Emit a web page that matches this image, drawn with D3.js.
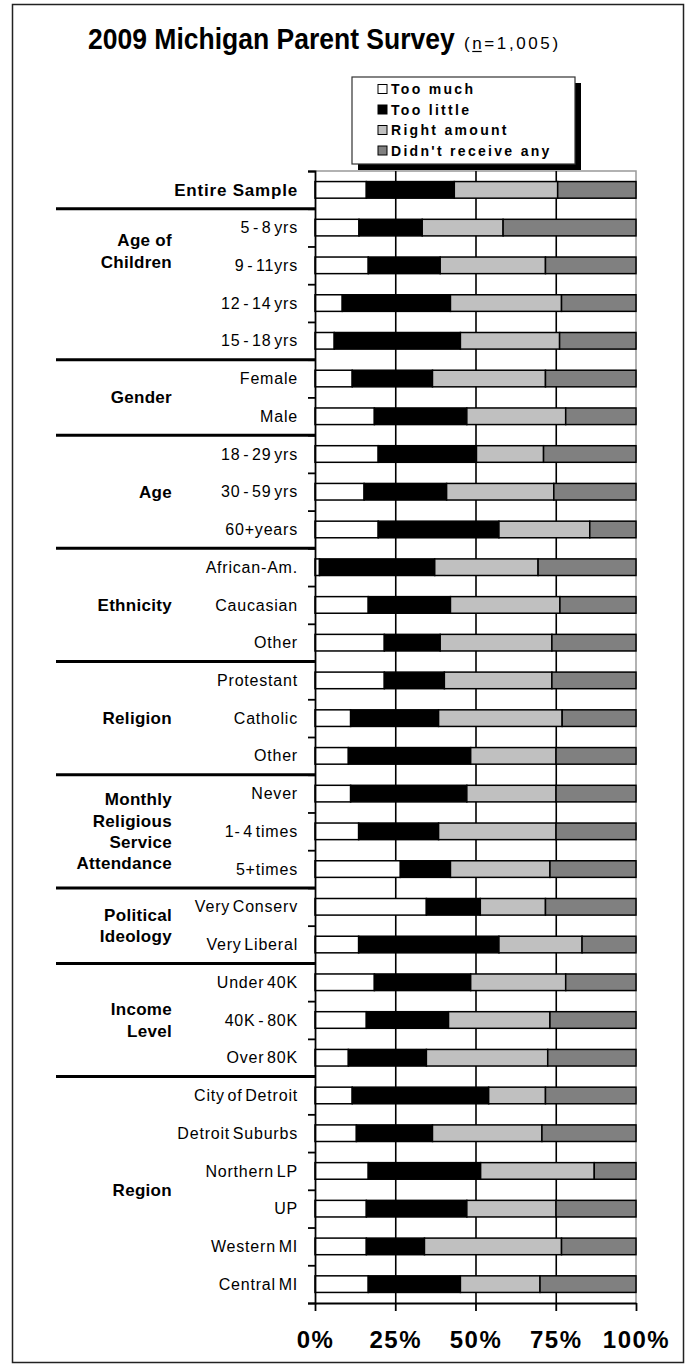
<!DOCTYPE html>
<html>
<head>
<meta charset="utf-8">
<script src="https://cdn.jsdelivr.net/npm/d3@7"></script>
<style>
  html, body { margin: 0; padding: 0; background: #fff; }
  svg text { font-family: "Liberation Sans", Arial, sans-serif; fill: #000; }
</style>
</head>
<body>
<svg id="chart" width="689" height="1367"></svg>
<script>
// Row labels, top to bottom
const rowLabels = [
  "Entire Sample",
  "5 - 8 yrs", "9 - 11yrs", "12 - 14 yrs", "15 - 18 yrs",
  "Female", "Male",
  "18 - 29 yrs", "30 - 59 yrs", "60+years",
  "African-Am.", "Caucasian", "Other",
  "Protestant", "Catholic", "Other",
  "Never", "1- 4 times", "5+times",
  "Very Conserv", "Very Liberal",
  "Under 40K", "40K - 80K", "Over 80K",
  "City of Detroit", "Detroit Suburbs", "Northern LP", "UP", "Western MI", "Central MI"
];

// Group headings (lines split by "|") and how many rows each spans
const groupNames = ["", "Age of|Children", "Gender", "Age", "Ethnicity", "Religion",
  "Monthly|Religious|Service|Attendance", "Political|Ideology", "Income|Level", "Region"];
const groupSizes = [1, 4, 2, 3, 3, 3, 3, 2, 3, 6];

// Response shares (%) per row
const tooMuch = [16.0, 13.7, 16.6, 8.5, 6.0, 11.6, 18.5, 19.7, 15.3, 19.7, 1.4, 16.6, 21.6,
  21.6, 11.1, 10.4, 11.1, 13.6, 26.6, 34.7, 13.6, 18.5, 16.0, 10.4, 11.6, 12.9, 16.6, 16.0, 16.0, 16.6];
const tooLittle = [27.4, 19.7, 22.4, 33.7, 39.3, 25.0, 28.8, 30.6, 25.7, 37.6, 35.9, 25.6, 17.4,
  18.7, 27.4, 38.1, 36.2, 24.9, 15.6, 16.8, 43.7, 30.0, 25.6, 24.3, 42.5, 23.7, 35.0, 31.3, 18.1, 28.7];
const rightAmount = [32.2, 25.2, 32.8, 34.6, 30.9, 35.2, 30.8, 20.9, 33.4, 28.3, 32.2, 34.1, 34.8,
  33.5, 38.5, 26.6, 27.8, 36.6, 31.0, 20.3, 25.9, 29.6, 31.6, 37.8, 17.7, 34.1, 35.4, 27.8, 42.7, 24.8];
const didntReceive = [24.4, 41.4, 28.2, 23.2, 23.8, 28.2, 21.9, 28.8, 25.6, 14.4, 30.5, 23.7, 26.2,
  26.2, 23.0, 24.9, 24.9, 24.9, 26.8, 28.2, 16.8, 21.9, 26.8, 27.5, 28.2, 29.3, 13.0, 24.9, 23.2, 29.9];

const seriesNames = ["Too much", "Too little", "Right amount", "Didn't receive any"];
const seriesColors = ["#ffffff", "#000000", "#c0c0c0", "#808080"];
const xTicks = [0, 25, 50, 75, 100];

const svg = d3.select("#chart");

// Outer frame
svg.append("rect")
  .attr("x", 12.5).attr("y", 4.5).attr("width", 671).attr("height", 1358)
  .attr("fill", "none").attr("stroke", "#222").attr("stroke-width", 1.5);

// Title (slightly stretched vertically)
svg.append("text")
  .attr("transform", "translate(88,49) scale(1,1.08)")
  .attr("font-size", 26.5).attr("font-weight", "bold")
  .text("2009 Michigan Parent Survey");
const sub = svg.append("text")
  .attr("x", 464).attr("y", 49)
  .attr("font-size", 17).attr("letter-spacing", 2.6)
  .text("(n=1,005)");
// underline the "n"
{
  const node = sub.node();
  const start = node.getStartPositionOfChar(1);
  const w = node.getSubStringLength(1, 1) - 2.6;
  svg.append("line")
    .attr("x1", start.x).attr("x2", start.x + w)
    .attr("y1", 51.5).attr("y2", 51.5)
    .attr("stroke", "#000").attr("stroke-width", 1.2);
}

// Plot geometry
const plotLeft = 315, plotRight = 636, plotTop = 171, plotBottom = 1303;

const table = rowLabels.map((label, i) => ({
  id: i, label,
  [seriesNames[0]]: tooMuch[i],
  [seriesNames[1]]: tooLittle[i],
  [seriesNames[2]]: rightAmount[i],
  [seriesNames[3]]: didntReceive[i]
}));

const x = d3.scaleLinear().domain([0, 100]).range([plotLeft, plotRight]);
const y = d3.scaleBand().domain(table.map(d => d.id)).range([plotTop, plotBottom])
  .paddingInner(0.56).paddingOuter(0.28);
const rowScale = d3.scaleLinear().domain([0, rowLabels.length]).range([plotTop, plotBottom]);
const color = d3.scaleOrdinal().domain(seriesNames).range(seriesColors);

// Plot area border (top and right)
svg.append("path")
  .attr("d", `M${plotLeft},${plotTop}H${plotRight}V${plotBottom}`)
  .attr("fill", "none").attr("stroke", "#999").attr("stroke-width", 1.5);

// Vertical gridlines
svg.append("g")
  .attr("transform", `translate(0,${plotBottom})`)
  .call(d3.axisBottom(x).tickValues([25, 50, 75]).tickSize(-(plotBottom - plotTop)).tickFormat(""))
  .call(g => g.select(".domain").remove())
  .call(g => g.selectAll(".tick line").attr("stroke", "#000").attr("stroke-width", 1.6));

// Stacked bars
const stacked = d3.stack().keys(seriesNames)(table);
svg.append("g").selectAll("g")
  .data(stacked)
  .join("g")
  .attr("fill", d => color(d.key))
  .selectAll("rect")
  .data(d => d)
  .join("rect")
  .attr("x", d => x(d[0]))
  .attr("y", d => y(d.data.id))
  .attr("width", d => x(d[1]) - x(d[0]))
  .attr("height", y.bandwidth())
  .attr("stroke", "#000")
  .attr("stroke-width", 1.5);

// Y axis with ticks at row boundaries
svg.append("g")
  .attr("transform", `translate(${plotLeft},0)`)
  .call(d3.axisLeft(rowScale).ticks(rowLabels.length).tickSize(7).tickFormat(""))
  .call(g => g.selectAll("path, line").attr("stroke", "#000").attr("stroke-width", 1.8));

// X axis
svg.append("g")
  .attr("transform", `translate(0,${plotBottom})`)
  .call(d3.axisBottom(x).tickValues(xTicks).tickSize(8).tickSizeOuter(0).tickPadding(20)
    .tickFormat(d => d + "%"))
  .call(g => g.selectAll("path, line").attr("stroke", "#000").attr("stroke-width", 1.8))
  .call(g => g.selectAll("text")
    .attr("font-size", 24).attr("font-weight", "bold")
    .attr("letter-spacing", 1.5)
    .attr("font-family", "'Liberation Sans', Arial, sans-serif"));

// Row labels
svg.append("g").selectAll("text")
  .data(table)
  .join("text")
  .attr("x", 298)
  .attr("y", d => y(d.id) + y.bandwidth() / 2)
  .attr("dy", "0.35em")
  .attr("text-anchor", "end")
  .attr("font-size", d => d.id === 0 ? 17 : 16)
  .attr("font-weight", d => d.id === 0 ? "bold" : "normal")
  .attr("letter-spacing", 0.8)
  .attr("word-spacing", d => d.id === 0 ? 0 : -2.5)
  .text(d => d.label);

// Group headings and separators
let startRow = 0;
const groupInfo = groupNames.map((name, i) => {
  const g = { name, start: startRow, size: groupSizes[i] };
  startRow += groupSizes[i];
  return g;
});

const lineHeight = 21.2;
groupInfo.forEach((g, i) => {
  if (i > 0) {
    svg.append("line")
      .attr("x1", 56).attr("x2", plotLeft)
      .attr("y1", rowScale(g.start)).attr("y2", rowScale(g.start))
      .attr("stroke", "#000").attr("stroke-width", 3);
  }
  if (!g.name) return;
  const lines = g.name.split("|");
  // the children's age heading sits higher, beside the first two rows
  const centerRow = g.size === 4 && lines.length === 2 ? g.start + 1.12 : g.start + g.size / 2;
  const cy = rowScale(centerRow);
  const t = svg.append("text")
    .attr("text-anchor", "end")
    .attr("font-size", 17).attr("font-weight", "bold")
    .attr("letter-spacing", 0.3);
  lines.forEach((ln, j) => {
    t.append("tspan")
      .attr("x", 172)
      .attr("y", cy + (j - (lines.length - 1) / 2) * lineHeight)
      .attr("dy", "0.35em")
      .text(ln);
  });
});

// Legend with drop shadow
const legX = 352, legY = 77, legW = 223, legH = 87;
svg.append("rect").attr("x", legX + 6).attr("y", legY + 6).attr("width", legW).attr("height", legH)
  .attr("fill", "#000");
svg.append("rect").attr("x", legX).attr("y", legY).attr("width", legW).attr("height", legH)
  .attr("fill", "#fff").attr("stroke", "#333").attr("stroke-width", 1.2);
const leg = svg.append("g").selectAll("g")
  .data(seriesNames)
  .join("g")
  .attr("transform", (d, i) => `translate(${legX + 26},${legY + 12 + i * 20.5})`);
leg.append("rect")
  .attr("x", 0).attr("y", -4.5).attr("width", 9).attr("height", 9)
  .attr("fill", d => color(d)).attr("stroke", "#000").attr("stroke-width", 1);
leg.append("text")
  .attr("x", 13).attr("dy", "0.36em")
  .attr("font-size", 14).attr("font-weight", "bold")
  .attr("letter-spacing", 2.3)
  .text(d => d);
</script>
</body>
</html>
